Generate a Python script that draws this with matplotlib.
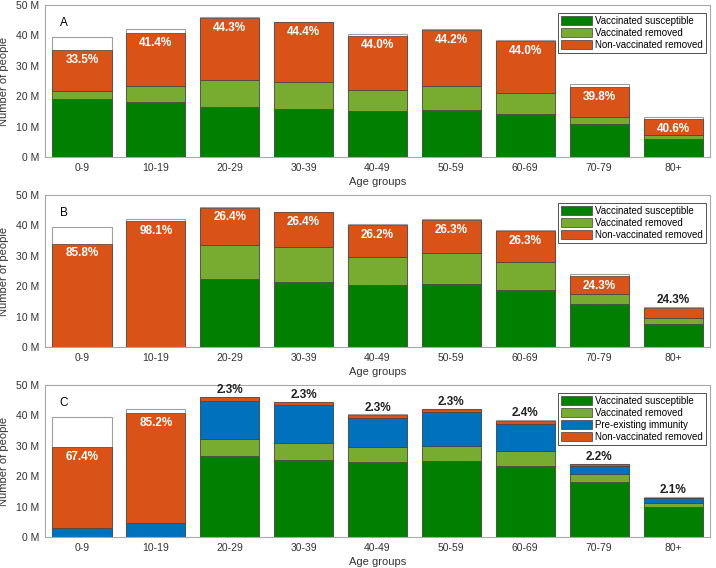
import numpy as np
import matplotlib
matplotlib.use('Agg')
import matplotlib.pyplot as plt
from matplotlib.patches import Patch

plt.rcParams['font.family'] = ['Liberation Sans', 'DejaVu Sans']

ages = ['0-9', '10-19', '20-29', '30-39', '40-49', '50-59', '60-69', '70-79', '80+']
# population per age group (millions)
total = [39.6, 42.2, 46.0, 44.5, 40.3, 42.0, 38.4, 24.1, 13.2]

# Panel A (millions)
a_vacc_susc = [19.0, 18.1, 16.6, 15.9, 15.1, 15.4, 14.3, 10.8, 5.8]
a_vacc_rem = [2.8, 5.1, 8.7, 8.7, 7.1, 7.8, 6.8, 2.5, 1.3]
a_nonvacc_rem = [13.3, 17.5, 20.4, 19.7, 17.7, 18.5, 17.0, 9.6, 5.4]
a_pct = ['33.5%', '41.4%', '44.3%', '44.4%', '44.0%', '44.2%', '44.0%', '39.8%', '40.6%']

# Panel B
b_vacc_susc = [0, 0, 22.3, 21.4, 20.4, 20.6, 18.9, 14.0, 7.6]
b_vacc_rem = [0, 0, 11.4, 11.4, 9.3, 10.2, 9.1, 3.5, 2.0]
b_nonvacc_rem = [34.0, 41.4, 12.1, 11.5, 10.3, 11.0, 10.1, 5.9, 3.2]
b_pct = ['85.8%', '98.1%', '26.4%', '26.4%', '26.2%', '26.3%', '26.3%', '24.3%', '24.3%']

# Panel C
c_vacc_susc = [0, 0, 26.7, 25.4, 24.7, 24.9, 23.4, 18.0, 9.8]
c_vacc_rem = [0, 0, 5.4, 5.5, 4.8, 5.1, 5.0, 2.6, 1.3]
c_pre_imm = [2.8, 4.7, 12.8, 12.4, 9.6, 11.0, 8.8, 2.8, 1.6]
c_nonvacc_rem = [26.7, 36.0, 1.06, 1.02, 0.93, 0.97, 0.92, 0.53, 0.28]
c_pct = ['67.4%', '85.2%', '2.3%', '2.3%', '2.3%', '2.3%', '2.4%', '2.2%', '2.1%']

DKGREEN = '#007F00'
LTGREEN = '#77AC30'
BLUE = '#0072BD'
ORANGE = '#D95319'
EDGE = '#404040'


def draw_panel(ax, letter, layers, pct, inside):
    x = np.arange(len(ages))
    w = 0.8
    # white outline of whole population
    ax.bar(x, total, w, color='white', edgecolor='#A0A0A0', linewidth=0.8)
    bottom = np.zeros(len(ages))
    for vals, col, lab in layers:
        vals = np.array(vals)
        ax.bar(x, vals, w, bottom=bottom, color=col, edgecolor=EDGE,
               linewidth=0.5, label=lab)
        bottom += vals
    top = bottom
    for i in range(len(ages)):
        if inside[i]:
            ax.text(x[i], top[i] - 1.2, pct[i], ha='center', va='top',
                    color='white', fontsize=8.5, fontweight='bold')
        else:
            ax.text(x[i], total[i] + 0.3, pct[i], ha='center', va='bottom',
                    color='#202020', fontsize=8.5, fontweight='bold')
    ax.set_xlim(-0.5, len(ages) - 0.5)
    ax.set_ylim(0, 50)
    ax.set_yticks([0, 10, 20, 30, 40, 50])
    ax.set_yticklabels(['0 M', '10 M', '20 M', '30 M', '40 M', '50 M'])
    ax.set_xticks(x)
    ax.set_xticklabels(ages)
    ax.tick_params(length=0, labelsize=7.5, colors='#333333', pad=4)
    for s in ax.spines.values():
        s.set_color('#A8A8A8')
        s.set_linewidth(0.8)
    ax.set_ylabel('Number of people', fontsize=8, color='#333333')
    ax.yaxis.set_label_coords(-36 / 665, 0.5)
    ax.set_xlabel('Age groups', fontsize=8, color='#333333', labelpad=3)
    ax.text(0.022, 0.92, letter, transform=ax.transAxes, fontsize=8.5,
            va='top', ha='left')
    handles = {l: Patch(facecolor=c, edgecolor=EDGE, linewidth=0.5, label=l)
               for _, c, l in layers}
    leg_labels = ['Vaccinated susceptible', 'Vaccinated removed',
                  'Pre-existing immunity', 'Non-vaccinated removed']
    hs = [handles[l] for l in leg_labels if l in handles]
    leg = ax.legend(handles=hs, loc='upper right',
                    bbox_to_anchor=(1 - 4 / 665, 1 - 8 / 152),
                    borderaxespad=0, fontsize=7.0, fancybox=False,
                    framealpha=1, edgecolor='#505050', handlelength=3.2,
                    handleheight=1.0, labelspacing=0.2,
                    handletextpad=0.35, borderpad=0.3)
    leg.get_frame().set_linewidth(0.7)


fig = plt.figure(figsize=(7.16, 5.68), dpi=100)
axA = fig.add_axes([45 / 716, 1 - 157 / 568, 665 / 716, 152 / 568])
axB = fig.add_axes([45 / 716, 1 - 347 / 568, 665 / 716, 152 / 568])
axC = fig.add_axes([45 / 716, 1 - 537 / 568, 665 / 716, 152 / 568])

draw_panel(axA, 'A',
           [(a_vacc_susc, DKGREEN, 'Vaccinated susceptible'),
            (a_vacc_rem, LTGREEN, 'Vaccinated removed'),
            (a_nonvacc_rem, ORANGE, 'Non-vaccinated removed')],
           a_pct, [True] * 9)
draw_panel(axB, 'B',
           [(b_vacc_susc, DKGREEN, 'Vaccinated susceptible'),
            (b_vacc_rem, LTGREEN, 'Vaccinated removed'),
            (b_nonvacc_rem, ORANGE, 'Non-vaccinated removed')],
           b_pct, [True] * 8 + [False])
draw_panel(axC, 'C',
           [(c_vacc_susc, DKGREEN, 'Vaccinated susceptible'),
            (c_vacc_rem, LTGREEN, 'Vaccinated removed'),
            (c_pre_imm, BLUE, 'Pre-existing immunity'),
            (c_nonvacc_rem, ORANGE, 'Non-vaccinated removed')],
           c_pct, [True, True] + [False] * 7)

fig.savefig('out.png', dpi=100)
